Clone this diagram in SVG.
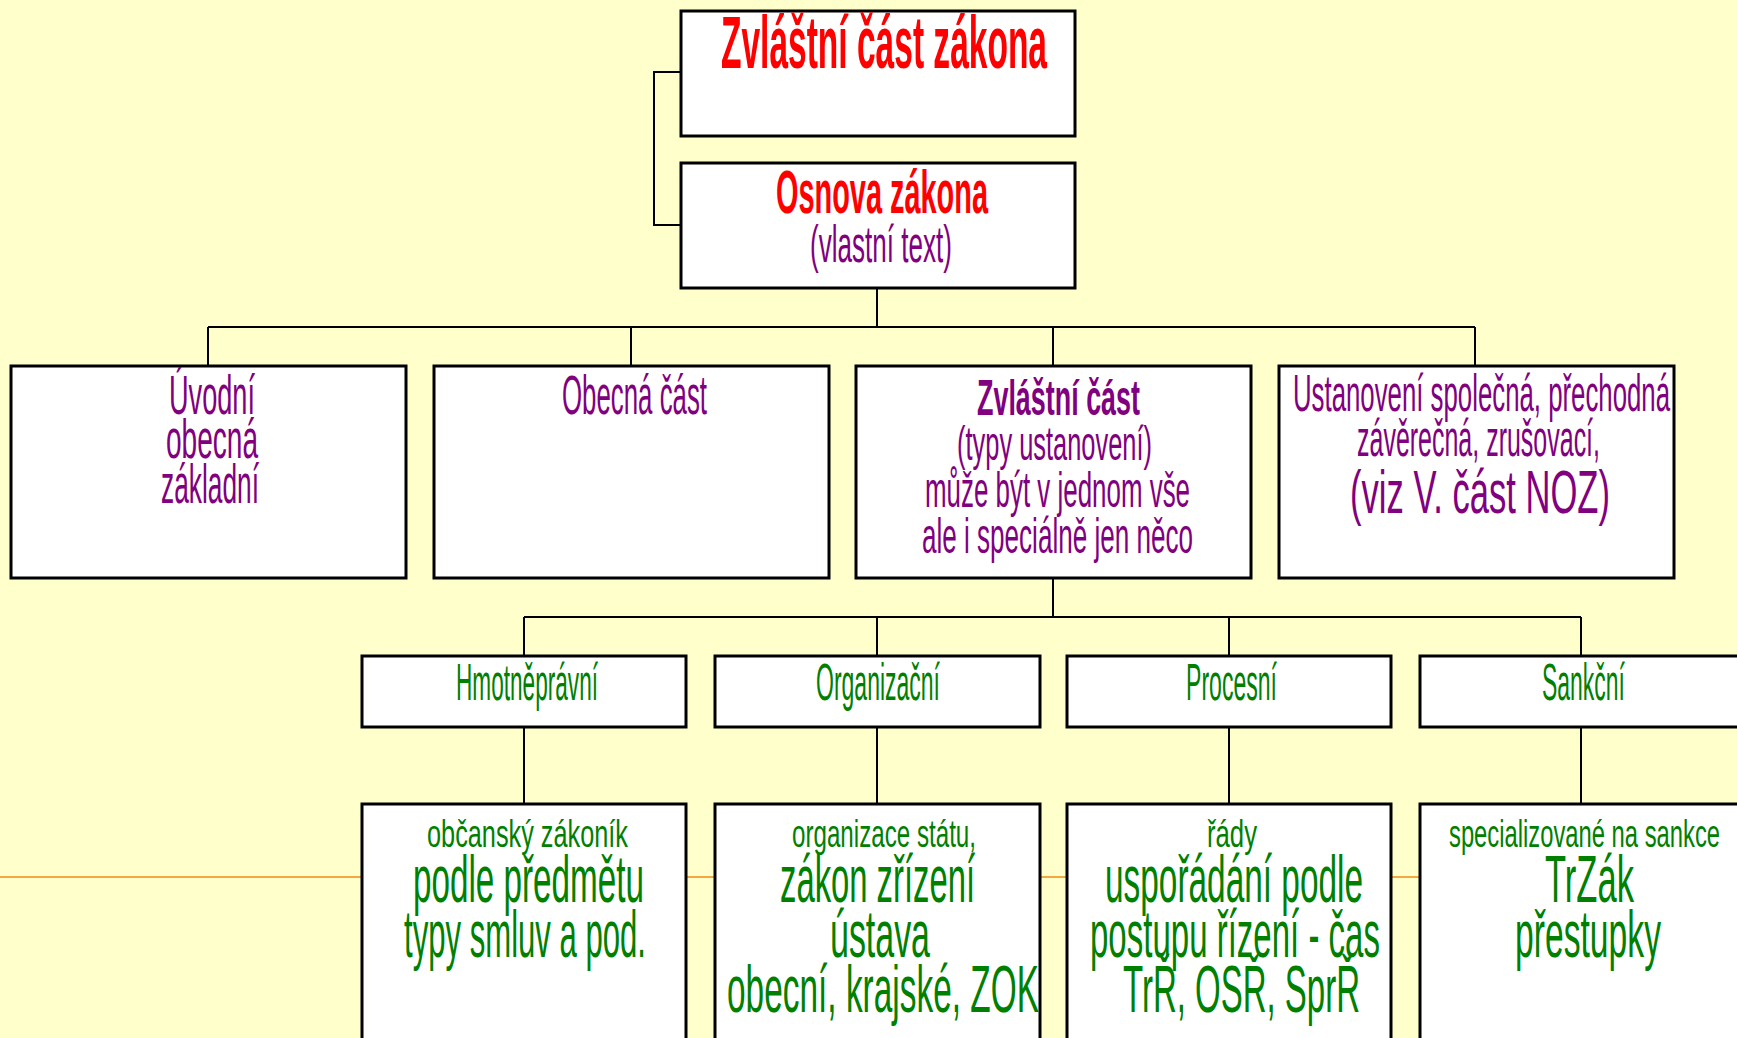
<svg xmlns="http://www.w3.org/2000/svg" width="1737" height="1038" viewBox="0 0 1737 1038">
<style>
.box{fill:#fff;stroke:#000;stroke-width:3}
.con{fill:none;stroke:#000;stroke-width:2}
text{font-family:"Liberation Sans",Arial,sans-serif}
.r{fill:#ff0000;font-weight:bold}
.p{fill:#800080}
.pb{fill:#800080;font-weight:bold}
.g{fill:#008000}
</style>
<defs>
<clipPath id="clipTop"><rect x="682" y="12" width="392" height="123"/></clipPath>
<clipPath id="clipRow2"><rect x="0" y="367" width="1737" height="210"/></clipPath>
</defs>
<rect x="0" y="0" width="1737" height="1038" fill="#ffffcc"/>
<line x1="0" y1="877" x2="1737" y2="877" stroke="#f5a742" stroke-width="2"/>
<g id="connectors">
<polyline class="con" points="681,72 654,72 654,225 681,225"/>
<line class="con" x1="877" y1="288" x2="877" y2="327"/>
<line class="con" x1="208" y1="327" x2="1475" y2="327"/>
<line class="con" x1="208" y1="327" x2="208" y2="366"/>
<line class="con" x1="631" y1="327" x2="631" y2="366"/>
<line class="con" x1="1053" y1="327" x2="1053" y2="366"/>
<line class="con" x1="1475" y1="327" x2="1475" y2="366"/>
<line class="con" x1="1053" y1="578" x2="1053" y2="617"/>
<line class="con" x1="524" y1="617" x2="1581" y2="617"/>
<line class="con" x1="524" y1="617" x2="524" y2="656"/>
<line class="con" x1="877" y1="617" x2="877" y2="656"/>
<line class="con" x1="1229" y1="617" x2="1229" y2="656"/>
<line class="con" x1="1581" y1="617" x2="1581" y2="656"/>
<line class="con" x1="524" y1="727" x2="524" y2="804"/>
<line class="con" x1="877" y1="727" x2="877" y2="804"/>
<line class="con" x1="1229" y1="727" x2="1229" y2="804"/>
<line class="con" x1="1581" y1="727" x2="1581" y2="804"/>
</g>
<g id="n-zvlastni-cast-zakona">
<rect class="box" x="681" y="11" width="394" height="125"/>
<text class="r" x="721" y="68" font-size="74" textLength="326" lengthAdjust="spacingAndGlyphs" clip-path="url(#clipTop)">Zvláštní část zákona</text>
</g>
<g id="n-osnova">
<rect class="box" x="681" y="163" width="394" height="125"/>
<text class="r" x="776" y="213" font-size="62" textLength="212" lengthAdjust="spacingAndGlyphs">Osnova zákona</text>
<text class="p" x="810" y="262" font-size="52" textLength="142" lengthAdjust="spacingAndGlyphs">(vlastní text)</text>
</g>
<g id="n-uvodni">
<rect class="box" x="11" y="366" width="395" height="212"/>
<g clip-path="url(#clipRow2)">
<text class="p" x="169" y="414" font-size="56" textLength="86" lengthAdjust="spacingAndGlyphs">Úvodní</text>
</g>
<text class="p" x="166" y="458" font-size="56" textLength="92" lengthAdjust="spacingAndGlyphs">obecná</text>
<text class="p" x="161" y="503" font-size="56" textLength="98" lengthAdjust="spacingAndGlyphs">základní</text>
</g>
<g id="n-obecna">
<rect class="box" x="434" y="366" width="395" height="212"/>
<text class="p" x="562" y="414" font-size="56" textLength="145" lengthAdjust="spacingAndGlyphs">Obecná část</text>
</g>
<g id="n-zvlastni">
<rect class="box" x="856" y="366" width="395" height="212"/>
<g clip-path="url(#clipRow2)">
<text class="pb" x="977" y="415" font-size="50" textLength="163" lengthAdjust="spacingAndGlyphs">Zvláštní část</text>
</g>
<text class="p" x="957" y="460" font-size="48" textLength="195" lengthAdjust="spacingAndGlyphs">(typy ustanovení)</text>
<text class="p" x="925" y="507" font-size="50" textLength="265" lengthAdjust="spacingAndGlyphs">může být v jednom vše</text>
<text class="p" x="922" y="553" font-size="50" textLength="271" lengthAdjust="spacingAndGlyphs">ale i speciálně jen něco</text>
</g>
<g id="n-ustanoveni">
<rect class="box" x="1279" y="366" width="395" height="212"/>
<text class="p" x="1293" y="411" font-size="52" textLength="377" lengthAdjust="spacingAndGlyphs">Ustanovení společná, přechodná</text>
<text class="p" x="1357" y="456" font-size="52" textLength="243" lengthAdjust="spacingAndGlyphs">závěrečná, zrušovací,</text>
<text class="p" x="1350" y="513" font-size="62" textLength="260" lengthAdjust="spacingAndGlyphs">(viz V. část NOZ)</text>
</g>
<g id="n-hmotnepravni">
<rect class="box" x="362" y="656" width="324" height="71"/>
<text class="g" x="456" y="700" font-size="52" textLength="142" lengthAdjust="spacingAndGlyphs">Hmotněprávní</text>
</g>
<g id="n-organizacni">
<rect class="box" x="715" y="656" width="325" height="71"/>
<text class="g" x="816" y="700" font-size="52" textLength="124" lengthAdjust="spacingAndGlyphs">Organizační</text>
</g>
<g id="n-procesni">
<rect class="box" x="1067" y="656" width="324" height="71"/>
<text class="g" x="1186" y="700" font-size="52" textLength="91" lengthAdjust="spacingAndGlyphs">Procesní</text>
</g>
<g id="n-sankcni">
<rect class="box" x="1420" y="656" width="324" height="71"/>
<text class="g" x="1542" y="700" font-size="52" textLength="83" lengthAdjust="spacingAndGlyphs">Sankční</text>
</g>
<g id="n-obcansky">
<rect class="box" x="362" y="804" width="324" height="300"/>
<text class="g" x="427" y="847" font-size="38" textLength="201" lengthAdjust="spacingAndGlyphs">občanský zákoník</text>
<text class="g" x="413" y="902" font-size="66" textLength="231" lengthAdjust="spacingAndGlyphs">podle předmětu</text>
<text class="g" x="404" y="957" font-size="66" textLength="242" lengthAdjust="spacingAndGlyphs">typy smluv a pod.</text>
</g>
<g id="n-organizace-statu">
<rect class="box" x="715" y="804" width="325" height="300"/>
<text class="g" x="792" y="847" font-size="38" textLength="184" lengthAdjust="spacingAndGlyphs">organizace státu,</text>
<text class="g" x="780" y="902" font-size="66" textLength="195" lengthAdjust="spacingAndGlyphs">zákon zřízení</text>
<text class="g" x="830" y="957" font-size="66" textLength="100" lengthAdjust="spacingAndGlyphs">ústava</text>
<text class="g" x="727" y="1012" font-size="66" textLength="312" lengthAdjust="spacingAndGlyphs">obecní, krajské, ZOK</text>
</g>
<g id="n-rady">
<rect class="box" x="1067" y="804" width="324" height="300"/>
<text class="g" x="1207" y="847" font-size="38" textLength="50" lengthAdjust="spacingAndGlyphs">řády</text>
<text class="g" x="1105" y="902" font-size="66" textLength="258" lengthAdjust="spacingAndGlyphs">uspořádání podle</text>
<text class="g" x="1090" y="957" font-size="66" textLength="290" lengthAdjust="spacingAndGlyphs">postupu řízení - čas</text>
<text class="g" x="1123" y="1012" font-size="66" textLength="237" lengthAdjust="spacingAndGlyphs">TrŘ, OSŘ, SprŘ</text>
</g>
<g id="n-specializovane">
<rect class="box" x="1420" y="804" width="324" height="300"/>
<text class="g" x="1449" y="847" font-size="38" textLength="271" lengthAdjust="spacingAndGlyphs">specializované na sankce</text>
<text class="g" x="1545" y="902" font-size="66" textLength="89" lengthAdjust="spacingAndGlyphs">TrZák</text>
<text class="g" x="1515" y="957" font-size="66" textLength="146" lengthAdjust="spacingAndGlyphs">přestupky</text>
</g>
</svg>
